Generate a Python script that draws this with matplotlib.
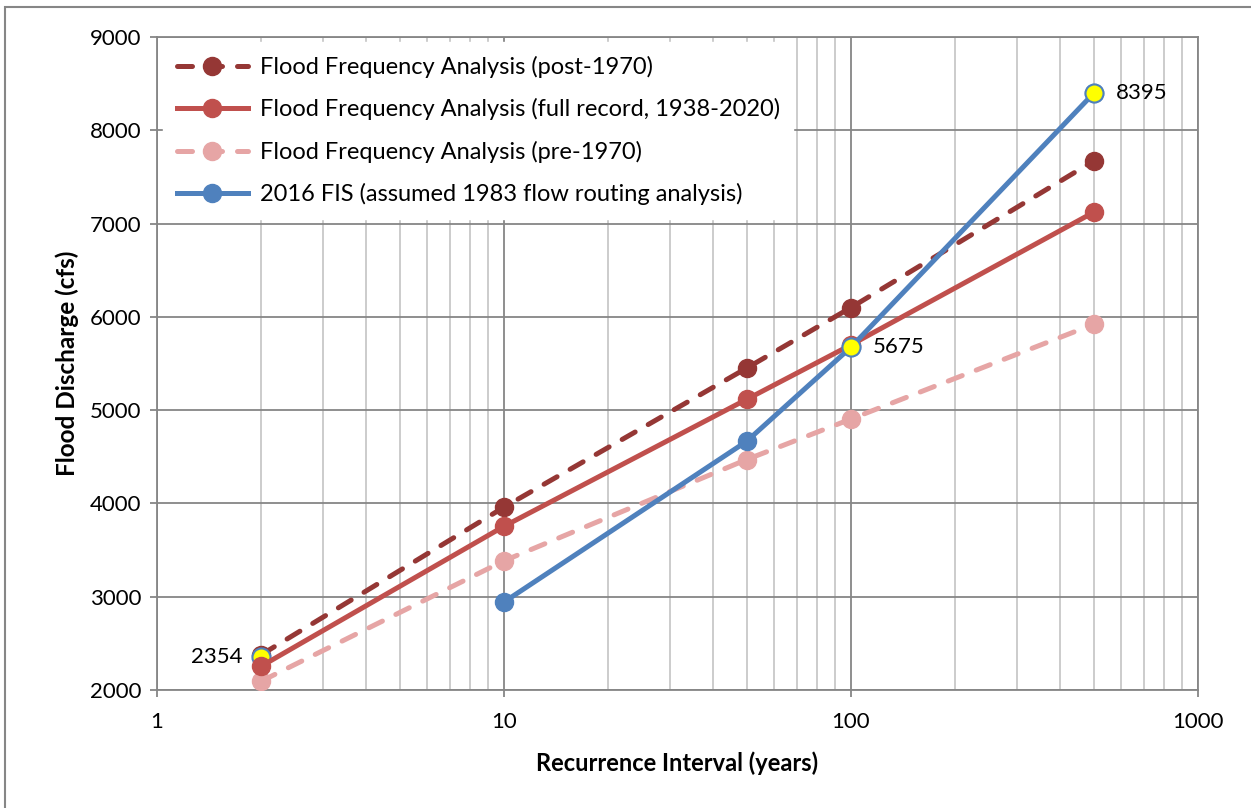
import matplotlib.pyplot as plt
from matplotlib.patches import Rectangle
from matplotlib.ticker import FixedLocator, NullFormatter, LogLocator

plt.rcParams['font.family'] = ['Lato', 'DejaVu Sans']

# recurrence intervals (years)
intervals = [2, 10, 50, 100, 500]
fis_intervals = [10, 50, 100, 500]

# flood discharge (cfs)
post_1970 = [2380, 3960, 5450, 6100, 7670]
full_record = [2257, 3755, 5115, 5700, 7120]
pre_1970 = [2096, 3385, 4470, 4905, 5920]
fis_2016 = [2943, 4665, 5675, 8395]

# highlighted values
hl_x = [2, 100, 500]
hl_y = [2354, 5675, 8395]

fig = plt.figure(figsize=(12.51, 8.08), dpi=100)
ax = fig.add_axes([0.1255, 0.146, 0.8321, 0.8082])

# outer chart border (right and bottom edges run off the canvas)
fig.patches.append(Rectangle((0.004, -0.05), 1.1, 1.041, transform=fig.transFigure,
                             fill=False, edgecolor='#868686', lw=1.5))

lw = 3.6
ms = 13
hl_style = dict(ls='none', marker='o', ms=ms, mfc='#FFFF00', mec='#4F81BD', mew=1.5)

ax.plot(intervals, post_1970, color='#953735', lw=lw, dashes=(3, 3), dash_capstyle='round',
        marker='o', ms=ms, label='Flood Frequency Analysis (post-1970)', zorder=3)
# 2-yr highlight sits under the full-record marker
ax.plot(hl_x[:1], hl_y[:1], zorder=3.5, **hl_style)
ax.plot(intervals, full_record, color='#C0504D', lw=lw, marker='o', ms=ms,
        label='Flood Frequency Analysis (full record, 1938-2020)', zorder=3.6)
ax.plot(intervals, pre_1970, color='#E6A5A5', lw=lw, dashes=(3, 3), dash_capstyle='round',
        marker='o', ms=ms, label='Flood Frequency Analysis (pre-1970)', zorder=3)
ax.plot(fis_intervals, fis_2016, color='#4F81BD', lw=lw, marker='o', ms=ms,
        label='2016 FIS (assumed 1983 flow routing analysis)', zorder=4)
ax.plot(hl_x[1:], hl_y[1:], zorder=5, **hl_style)

ax.annotate(str(hl_y[0]), (hl_x[0], hl_y[0]), xytext=(-14, 0), textcoords='offset points',
            ha='right', va='center', fontsize=16)
for x, y in zip(hl_x[1:], hl_y[1:]):
    ax.annotate(str(y), (x, y), xytext=(16, 0), textcoords='offset points',
                ha='left', va='center', fontsize=16)

ax.set_xscale('log')
ax.set_xlim(1, 1000)
ax.set_ylim(2000, 9000)
ax.set_yticks(range(2000, 9001, 1000))
ax.xaxis.set_major_locator(FixedLocator([1, 10, 100, 1000]))
ax.set_xticklabels(['1', '10', '100', '1000'])
ax.xaxis.set_minor_locator(LogLocator(base=10, subs=range(2, 10)))
ax.xaxis.set_minor_formatter(NullFormatter())

ax.grid(which='major', color='#868686', lw=1.3, zorder=0)
ax.grid(which='minor', axis='x', color='#C8C8C8', lw=1.3, zorder=0)
for s in ax.spines.values():
    s.set_color('#868686')
    s.set_linewidth(1.3)
ax.tick_params(which='minor', length=0)
ax.tick_params(which='major', length=5, color='#868686', width=1.3, labelsize=16)
ax.tick_params(axis='x', pad=11)
ax.tick_params(axis='y', pad=6)

ax.set_xlabel('Recurrence Interval (years)', fontsize=17, fontweight='bold', labelpad=14)
ax.set_ylabel('Flood Discharge (cfs)', fontsize=17.5, fontweight='bold', labelpad=8)

leg = ax.legend(loc='upper left', bbox_to_anchor=(0.006, 0.992), fontsize=17, frameon=True,
                fancybox=False, framealpha=1, edgecolor='white', borderaxespad=0,
                borderpad=0.58, handlelength=3, handletextpad=0.5, labelspacing=0.86)
leg.set_zorder(6)

fig.savefig('out.png', dpi=100)
